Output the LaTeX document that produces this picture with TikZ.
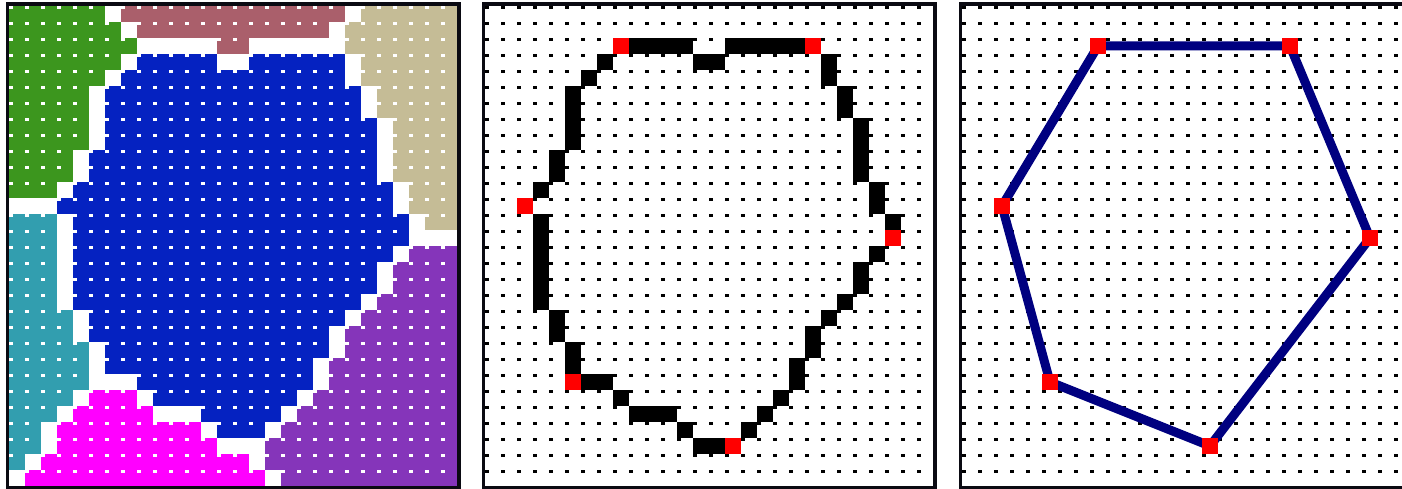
\documentclass[tikz,border=0pt]{standalone}
\usepackage{tikz}

\definecolor{cgreen}{RGB}{60,150,30}
\definecolor{cmauve}{RGB}{170,95,107}
\definecolor{ctan}{RGB}{197,188,150}
\definecolor{cblue}{RGB}{5,34,193}
\definecolor{cteal}{RGB}{50,158,175}
\definecolor{cpink}{RGB}{255,0,255}
\definecolor{cpurple}{RGB}{133,53,186}
\definecolor{cnavy}{RGB}{0,0,128}
\definecolor{cframe}{RGB}{10,10,18}

\tikzset{
  panel/.style={draw=cframe, line width=3.5pt},
  vert/.style={fill=red, minimum size=16pt, inner sep=0pt, outer sep=0pt},
  hull/.style={draw=cnavy, line width=9pt},
  griddot/.style={line width=3pt, dash pattern=on 3.5pt off 12.5pt},
}

\begin{document}
\begin{tikzpicture}[x=1pt, y=-1pt]
\useasboundingbox (0,0) rectangle (1402,489);

% regions
\begin{scope}[shift={(9,6)}]
\foreach \r/\a/\b/\cl in {
  0/0/5/cgreen, 0/7/20/cmauve, 0/22/27/ctan,
  1/0/6/cgreen, 1/8/19/cmauve, 1/21/27/ctan,
  2/0/7/cgreen, 2/13/14/cmauve, 2/21/27/ctan,
  3/0/6/cgreen, 3/8/12/cblue, 3/15/20/cblue, 3/22/27/ctan,
  4/0/5/cgreen, 4/7/20/cblue, 4/22/27/ctan,
  5/0/4/cgreen, 5/6/21/cblue, 5/23/27/ctan,
  6/0/4/cgreen, 6/6/21/cblue, 6/23/27/ctan,
  7/0/4/cgreen, 7/6/22/cblue, 7/24/27/ctan,
  8/0/4/cgreen, 8/6/22/cblue, 8/24/27/ctan,
  9/0/3/cgreen, 9/5/22/cblue, 9/24/27/ctan,
  10/0/3/cgreen, 10/5/22/cblue, 10/24/27/ctan,
  11/0/2/cgreen, 11/4/23/cblue, 11/25/27/ctan,
  12/3/23/cblue, 12/25/27/ctan,
  13/0/2/cteal, 13/4/24/cblue, 13/26/27/ctan,
  14/0/2/cteal, 14/4/24/cblue,
  15/0/2/cteal, 15/4/23/cblue, 15/25/27/cpurple,
  16/0/2/cteal, 16/4/22/cblue, 16/24/27/cpurple,
  17/0/2/cteal, 17/4/22/cblue, 17/24/27/cpurple,
  18/0/2/cteal, 18/4/21/cblue, 18/23/27/cpurple,
  19/0/3/cteal, 19/5/20/cblue, 19/22/27/cpurple,
  20/0/3/cteal, 20/5/19/cblue, 20/21/27/cpurple,
  21/0/4/cteal, 21/6/19/cblue, 21/21/27/cpurple,
  22/0/4/cteal, 22/6/18/cblue, 22/20/27/cpurple,
  23/0/4/cteal, 23/8/18/cblue, 23/20/27/cpurple,
  24/0/3/cteal, 24/5/7/cpink, 24/9/17/cblue, 24/19/27/cpurple,
  25/0/2/cteal, 25/4/8/cpink, 25/12/16/cblue, 25/18/27/cpurple,
  26/0/1/cteal, 26/3/11/cpink, 26/13/15/cblue, 26/17/27/cpurple,
  27/0/1/cteal, 27/3/12/cpink, 27/16/27/cpurple,
  28/0/0/cteal, 28/2/14/cpink, 28/16/27/cpurple,
  29/1/15/cpink, 29/17/27/cpurple}
  \fill[fill=\cl] ({16*\a},{16*\r}) rectangle ({16*\b+16},{16*\r+16});
\foreach \r in {0,...,29}
  \draw[griddot, white] (0,{16*\r+1.5}) -- (448,{16*\r+1.5});
\end{scope}
\draw[panel] (7.25,4.25) rectangle (458.75,487.75);

% boundary cells
\begin{scope}[shift={(485,6)}]
\foreach \r in {0,...,29}
  \draw[griddot, black] (0,{16*\r+1.5}) -- (448,{16*\r+1.5});
\foreach \r/\a/\b in {
  2/9/12, 2/15/19, 3/7/7, 3/13/14, 3/21/21, 4/6/6, 4/21/21,
  5/5/5, 5/22/22, 6/5/5, 6/22/22, 7/5/5, 7/23/23, 8/5/5, 8/23/23,
  9/4/4, 9/23/23, 10/4/4, 10/23/23, 11/3/3, 11/24/24, 12/24/24,
  13/3/3, 13/25/25, 14/3/3, 15/3/3, 15/24/24, 16/3/3, 16/23/23,
  17/3/3, 17/23/23, 18/3/3, 18/22/22, 19/4/4, 19/21/21,
  20/4/4, 20/20/20, 21/5/5, 21/20/20, 22/5/5, 22/19/19,
  23/6/7, 23/19/19, 24/8/8, 24/18/18, 25/9/11, 25/17/17,
  26/12/12, 26/16/16, 27/13/14}
  \fill[black] ({16*\a},{16*\r}) rectangle ({16*\b+16},{16*\r+16});
\foreach \c/\r/\n in {8/2/a1, 20/2/a2, 25/14/a3, 15/27/a4, 5/23/a5, 2/12/a6}
  \node[vert] (\n) at ({16*\c+8},{16*\r+8}) {};
\end{scope}
\draw[panel] (483.25,4.25) rectangle (934.75,487.75);

% hull
\begin{scope}[shift={(962,6)}]
\foreach \r in {0,...,29}
  \draw[griddot, black] (0,{16*\r+1.5}) -- (448,{16*\r+1.5});
\foreach \c/\r/\n in {8/2/b1, 20/2/b2, 25/14/b3, 15/27/b4, 5/23/b5, 2/12/b6}
  \coordinate (\n) at ({16*\c+8},{16*\r+8});
\draw[hull] (b1) -- (b2) -- (b3) -- (b4) -- (b5) -- (b6) -- cycle;
\foreach \n in {b1,b2,b3,b4,b5,b6}
  \node[vert] at (\n) {};
\end{scope}
\draw[panel] (960.25,4.25) rectangle (1411.75,487.75);
\end{tikzpicture}
\end{document}
